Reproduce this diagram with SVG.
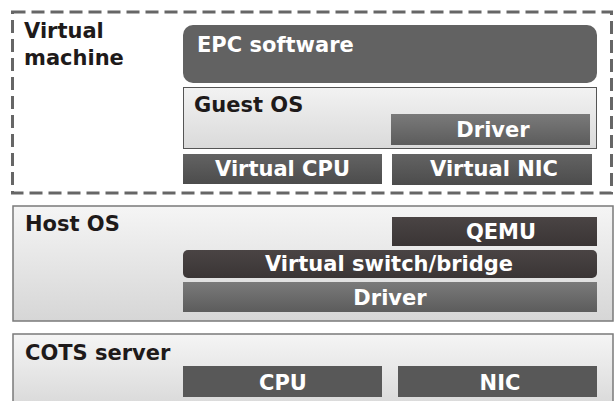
<svg xmlns="http://www.w3.org/2000/svg" width="615" height="401" viewBox="0 0 615 401">
<defs>
<linearGradient id="gLight" x1="0" y1="0" x2="0" y2="1">
<stop offset="0" stop-color="#f5f5f5"/><stop offset="1" stop-color="#d6d6d6"/>
</linearGradient>
<linearGradient id="gGuest" x1="0" y1="0" x2="0" y2="1">
<stop offset="0" stop-color="#f2f2f2"/><stop offset="1" stop-color="#dadada"/>
</linearGradient>
<linearGradient id="gDark" x1="0" y1="0" x2="0" y2="1">
<stop offset="0" stop-color="#636363"/><stop offset="1" stop-color="#4c4c4c"/>
</linearGradient>
<linearGradient id="gDriver" x1="0" y1="0" x2="0" y2="1">
<stop offset="0" stop-color="#7a7a7a"/><stop offset="1" stop-color="#5c5c5c"/>
</linearGradient>
<linearGradient id="gBlack" x1="0" y1="0" x2="0" y2="1">
<stop offset="0" stop-color="#4a4444"/><stop offset="1" stop-color="#3a3535"/>
</linearGradient>
</defs>
<style>
text{font-family:"DejaVu Sans",Verdana,sans-serif;font-weight:bold;font-size:21px}
.lbl{fill:#1e1a1a}
.w{fill:#ffffff;text-anchor:middle}
.layer{fill:url(#gLight);stroke:#7a7a7a;stroke-width:1.5}
.dark{fill:url(#gDark)}
.drv{fill:url(#gDriver)}
.blk{fill:url(#gBlack)}
</style>
<g id="vm">
<rect x="12.5" y="12" width="599" height="181" fill="#ffffff" stroke="#666666" stroke-width="3" stroke-dasharray="13 6"/>
<text class="lbl" x="24" y="38">Virtual</text>
<text class="lbl" x="24" y="65">machine</text>
</g>
<g id="epc">
<rect x="183" y="25" width="414" height="58" rx="10" fill="#626262"/>
<text x="197" y="52" fill="#ffffff">EPC software</text>
</g>
<g id="guest-os">
<rect x="183.5" y="87.5" width="413" height="61" fill="url(#gGuest)" stroke="#555555" stroke-width="1"/>
<text class="lbl" x="194" y="112">Guest OS</text>
</g>
<g id="guest-driver">
<rect x="391" y="114" width="199" height="31" class="drv"/>
<text class="w" x="493" y="137">Driver</text>
</g>
<g id="vcpu">
<rect x="183" y="154" width="199" height="30" class="dark"/>
<text class="w" x="282.5" y="176">Virtual CPU</text>
</g>
<g id="vnic">
<rect x="392" y="154" width="200" height="31" class="dark"/>
<text class="w" x="494" y="176">Virtual NIC</text>
</g>
<g id="host-os">
<rect x="13" y="206" width="600" height="115" class="layer"/>
<text class="lbl" x="25" y="231">Host OS</text>
</g>
<g id="qemu">
<rect x="392" y="217" width="205" height="29" class="blk"/>
<text class="w" x="501" y="239">QEMU</text>
</g>
<g id="vswitch">
<rect x="183" y="250" width="414" height="28" rx="5" class="blk"/>
<text class="w" x="389" y="271">Virtual switch/bridge</text>
</g>
<g id="host-driver">
<rect x="183" y="282" width="414" height="30" class="drv"/>
<text class="w" x="390" y="305">Driver</text>
</g>
<g id="cots">
<rect x="13" y="334" width="600" height="80" class="layer"/>
<text class="lbl" x="25" y="360">COTS server</text>
</g>
<g id="cpu">
<rect x="183" y="366" width="199" height="31" fill="#585858"/>
<text class="w" x="283" y="390">CPU</text>
</g>
<g id="nic">
<rect x="398" y="366" width="199" height="31" fill="#585858"/>
<text class="w" x="500" y="390">NIC</text>
</g>
<g id="connectors"/>
</svg>
